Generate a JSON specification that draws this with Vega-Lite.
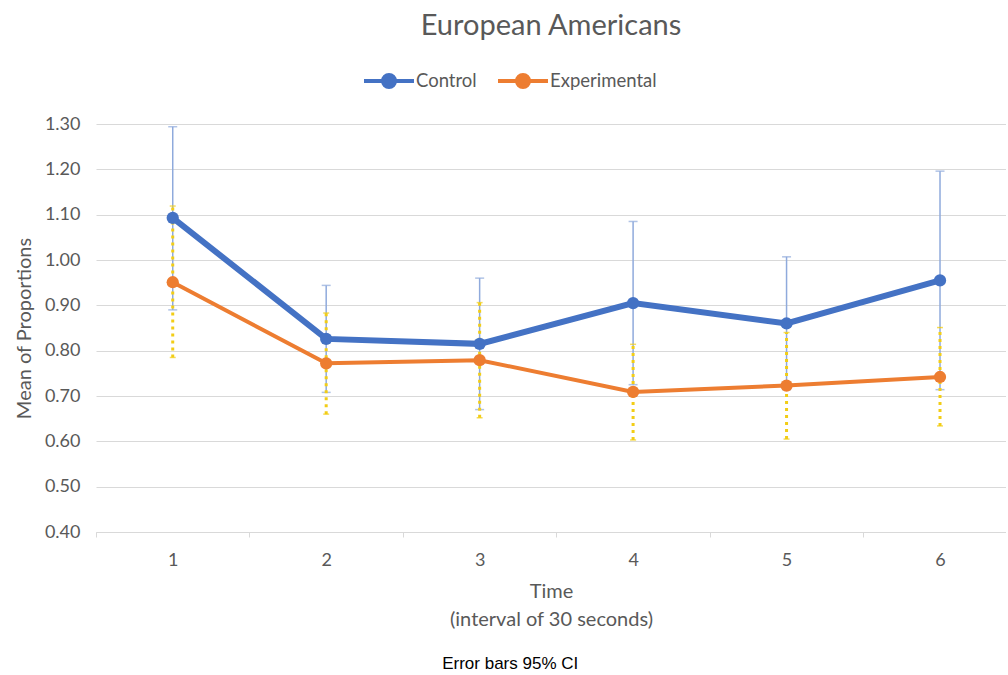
{
  "$schema": "https://vega.github.io/schema/vega-lite/v6.json",
  "padding": {"left": 14, "top": 12, "right": 0, "bottom": 4},
  "config": {
    "view": {"stroke": null},
    "font": "Lato",
    "concat": {"spacing": 0}
  },
  "title": {
    "text": "Error bars 95% CI",
    "orient": "bottom",
    "anchor": "middle",
    "font": "Liberation Sans",
    "fontSize": 17,
    "fontWeight": "normal",
    "color": "#000000",
    "offset": 27
  },
  "resolve": {"legend": {"color": "independent"}},
  "vconcat": [
    {
      "title": {
        "text": "European Americans",
        "font": "Lato",
        "fontSize": 29,
        "fontWeight": "normal",
        "color": "#595959",
        "offset": 13
      },
      "width": 910,
      "height": 408,
      "data": {
        "values": [
          {"time": 1, "group": "Control", "mean": 1.093, "lo": 0.890, "hi": 1.294},
          {"time": 2, "group": "Control", "mean": 0.826, "lo": 0.708, "hi": 0.944},
          {"time": 3, "group": "Control", "mean": 0.815, "lo": 0.670, "hi": 0.960},
          {"time": 4, "group": "Control", "mean": 0.905, "lo": 0.725, "hi": 1.085},
          {"time": 5, "group": "Control", "mean": 0.860, "lo": 0.714, "hi": 1.007},
          {"time": 6, "group": "Control", "mean": 0.955, "lo": 0.714, "hi": 1.196},
          {"time": 1, "group": "Experimental", "mean": 0.951, "lo": 0.785, "hi": 1.119},
          {"time": 2, "group": "Experimental", "mean": 0.772, "lo": 0.660, "hi": 0.883},
          {"time": 3, "group": "Experimental", "mean": 0.779, "lo": 0.652, "hi": 0.906},
          {"time": 4, "group": "Experimental", "mean": 0.709, "lo": 0.603, "hi": 0.814},
          {"time": 5, "group": "Experimental", "mean": 0.723, "lo": 0.605, "hi": 0.840},
          {"time": 6, "group": "Experimental", "mean": 0.742, "lo": 0.634, "hi": 0.851}
        ]
      },
      "encoding": {
        "x": {
          "field": "time",
          "type": "quantitative",
          "scale": {"domain": [0.5, 6.43], "nice": false, "zero": false},
          "axis": {
            "values": [0.5, 1, 1.5, 2, 2.5, 3, 3.5, 4, 4.5, 5, 5.5, 6],
            "labelExpr": "datum.value % 1 === 0 ? format(datum.value, 'd') : ''",
            "grid": false,
            "domainColor": "#D9D9D9",
            "domainWidth": 1,
            "tickColor": "#D9D9D9",
            "tickSize": 5,
            "tickOpacity": {"condition": {"test": "datum.value % 1 === 0", "value": 0}, "value": 1},
            "labelFontSize": 18,
            "labelColor": "#595959",
            "labelPadding": 14,
            "labelFlush": false,
            "title": ["Time", "(interval of 30 seconds)"],
            "titleFontSize": 20,
            "titleFontWeight": "normal",
            "titleColor": "#595959",
            "titlePadding": 12,
            "titleLineHeight": 28
          }
        }
      },
      "layer": [
        {
          "transform": [{"filter": "datum.group === 'Control'"}],
          "mark": {"type": "rule", "color": "#8FAADC", "strokeWidth": 1.5},
          "encoding": {
            "y": {"field": "lo", "type": "quantitative"},
            "y2": {"field": "hi"}
          }
        },
        {
          "transform": [{"filter": "datum.group === 'Control'"}],
          "mark": {"type": "tick", "orient": "horizontal", "color": "#8FAADC", "size": 9, "thickness": 1.5},
          "encoding": {"y": {"field": "hi", "type": "quantitative"}}
        },
        {
          "transform": [{"filter": "datum.group === 'Control'"}],
          "mark": {"type": "tick", "orient": "horizontal", "color": "#8FAADC", "size": 9, "thickness": 1.5},
          "encoding": {"y": {"field": "lo", "type": "quantitative"}}
        },
        {
          "transform": [{"filter": "datum.group === 'Experimental'"}],
          "mark": {"type": "rule", "color": "#F2CD16", "strokeWidth": 3, "strokeDash": [3, 4]},
          "encoding": {
            "y": {"field": "lo", "type": "quantitative"},
            "y2": {"field": "hi"}
          }
        },
        {
          "transform": [{"filter": "datum.group === 'Experimental'"}],
          "mark": {"type": "tick", "orient": "horizontal", "color": "#F2CD16", "size": 6, "thickness": 1.5},
          "encoding": {"y": {"field": "hi", "type": "quantitative"}}
        },
        {
          "transform": [{"filter": "datum.group === 'Experimental'"}],
          "mark": {"type": "tick", "orient": "horizontal", "color": "#F2CD16", "size": 6, "thickness": 1.5},
          "encoding": {"y": {"field": "lo", "type": "quantitative"}}
        },
        {
          "transform": [{"filter": "datum.group === 'Control'"}],
          "mark": {"type": "line", "strokeWidth": 6},
          "encoding": {
            "y": {"field": "mean", "type": "quantitative"},
            "color": {"field": "group", "type": "nominal"}
          }
        },
        {
          "transform": [{"filter": "datum.group === 'Experimental'"}],
          "mark": {"type": "line", "strokeWidth": 4},
          "encoding": {
            "y": {"field": "mean", "type": "quantitative"},
            "color": {"field": "group", "type": "nominal"}
          }
        },
        {
          "mark": {"type": "circle", "size": 150, "opacity": 1},
          "encoding": {
            "y": {
              "field": "mean",
              "type": "quantitative",
              "scale": {"domain": [0.4, 1.3], "nice": false, "zero": false},
              "axis": {
                "values": [0.4, 0.5, 0.6, 0.7, 0.8, 0.9, 1.0, 1.1, 1.2, 1.3],
                "format": ".2f",
                "domain": false,
                "ticks": false,
                "grid": true,
                "gridColor": "#D9D9D9",
                "gridWidth": 1,
                "labelFontSize": 18,
                "labelColor": "#595959",
                "labelPadding": 16,
                "title": "Mean of Proportions",
                "titleFontSize": 20,
                "titleFontWeight": "normal",
                "titleColor": "#595959",
                "titlePadding": 10
              }
            },
            "color": {
              "field": "group",
              "type": "nominal",
              "scale": {"domain": ["Control", "Experimental"], "range": ["#4472C4", "#ED7D31"]},
              "legend": {
                "orient": "none",
                "legendX": 266,
                "legendY": -70,
                "direction": "horizontal",
                "title": null,
                "labelFontSize": 18.5,
                "labelColor": "#595959",
                "labelOffset": 0,
                "columnPadding": 13,
                "symbolType": "M-1,0L-0.24,0M0.24,0L1,0M-0.24,0A0.24,0.24,0,1,1,0.24,0A0.24,0.24,0,1,1,-0.24,0Z",
                "symbolSize": 2500,
                "symbolStrokeWidth": 4,
                "symbolOpacity": 1,
                "encode": {
                  "symbols": {
                    "update": {
                      "stroke": {"field": "value", "scale": "color"},
                      "fill": {"field": "value", "scale": "color"},
                      "strokeWidth": {"value": 4}
                    }
                  }
                }
              }
            }
          }
        }
      ]
    }
  ]
}
